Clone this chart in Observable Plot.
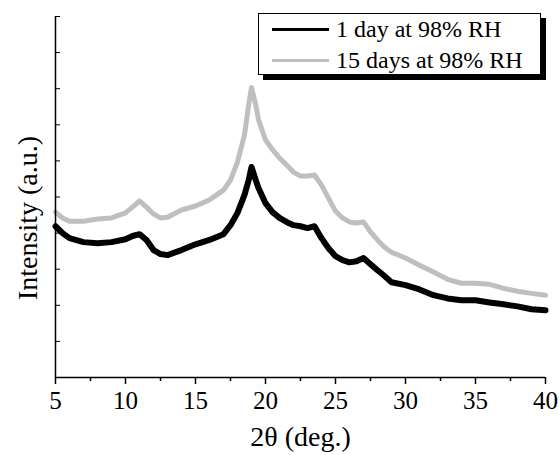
<!DOCTYPE html>
<html>
<head>
<meta charset="utf-8">
<script src="https://cdn.jsdelivr.net/npm/d3@7"></script>
<script src="https://cdn.jsdelivr.net/npm/@observablehq/plot@0.6"></script>
<style>
  body { margin: 0; background: #fff; }
  #wrap { position: relative; width: 559px; height: 455px; }
  .legend {
    position: absolute; left: 258px; top: 13px; width: 281px; height: 60px;
    border: 1px solid #000; background: #fff; box-shadow: 5px 5px 0 #000;
    font-family: "Liberation Serif", "Times New Roman", serif; font-size: 24px; color: #000;
  }
  .row { position: absolute; left: 13px; height: 28px; display: flex; align-items: center; white-space: nowrap; }
  .sample { display: inline-block; width: 57px; height: 3px; margin-right: 7px; }
  svg text { font-family: "Liberation Serif", "Times New Roman", serif; }
</style>
</head>
<body>
<div id="wrap"></div>
<script>
// 2θ positions (degrees)
const twoTheta = [5, 5.5, 6, 7, 8, 9, 10, 10.5, 11, 11.5, 12, 12.5, 13, 14, 15, 16, 17, 17.5, 18, 18.5, 18.8, 19, 19.3, 19.5, 20, 20.5, 21, 21.5, 22, 22.5, 23, 23.5, 24, 24.5, 25, 25.5, 26, 26.5, 27, 27.5, 28, 28.5, 29, 30, 31, 32, 33, 34, 35, 36, 37, 38, 39, 40];
// Intensity (a.u.), 1 day at 98% RH
const oneDay = [4.19, 4.00, 3.86, 3.75, 3.72, 3.75, 3.83, 3.92, 3.97, 3.81, 3.53, 3.42, 3.39, 3.53, 3.69, 3.81, 3.97, 4.22, 4.56, 5.06, 5.47, 5.83, 5.47, 5.25, 4.83, 4.58, 4.42, 4.31, 4.22, 4.19, 4.14, 4.19, 3.86, 3.58, 3.36, 3.25, 3.19, 3.22, 3.31, 3.14, 2.97, 2.81, 2.64, 2.56, 2.44, 2.28, 2.19, 2.14, 2.14, 2.08, 2.03, 1.97, 1.89, 1.86];
// Intensity (a.u.), 15 days at 98% RH
const fifteenDays = [4.58, 4.42, 4.33, 4.33, 4.39, 4.42, 4.56, 4.72, 4.89, 4.72, 4.53, 4.42, 4.44, 4.64, 4.75, 4.92, 5.19, 5.47, 5.97, 6.72, 7.56, 8.03, 7.56, 7.14, 6.58, 6.31, 6.08, 5.89, 5.69, 5.58, 5.58, 5.61, 5.33, 4.97, 4.61, 4.42, 4.31, 4.28, 4.31, 4.03, 3.81, 3.61, 3.47, 3.31, 3.11, 2.92, 2.72, 2.61, 2.61, 2.58, 2.47, 2.39, 2.33, 2.28];

const seriesNames = ["1 day at 98% RH", "15 days at 98% RH"];
const seriesColors = ["#000000", "#bfbfbf"];
const xTicks = [5, 10, 15, 20, 25, 30, 35, 40];
const xMinorTicks = [7.5, 12.5, 17.5, 22.5, 27.5, 32.5, 37.5];
const yTicks = [0, 1, 2, 3, 4, 5, 6, 7, 8, 9, 10];
const xTitle = "2θ (deg.)";
const yTitle = "Intensity (a.u.)";

const serif = '"Liberation Serif", "Times New Roman", serif';
const dayData = twoTheta.map((x, i) => ({x, y: oneDay[i]}));
const fifteenData = twoTheta.map((x, i) => ({x, y: fifteenDays[i]}));

const chart = Plot.plot({
  width: 559, height: 455,
  marginLeft: 55, marginRight: 14, marginTop: 16, marginBottom: 78,
  x: {domain: [5, 40]},
  y: {domain: [0, 10]},
  style: {fontFamily: serif, color: "#000", background: "#fff"},
  marks: [
    Plot.line(fifteenData, {x: "x", y: "y", stroke: seriesColors[1], strokeWidth: 5, strokeLinejoin: "round"}),
    Plot.line(dayData, {x: "x", y: "y", stroke: seriesColors[0], strokeWidth: 6, strokeLinejoin: "round"}),
    Plot.axisX({ticks: xTicks, tickSize: 7, tickPadding: 7, fontSize: 25, label: null, strokeWidth: 1.5}),
    Plot.axisX({ticks: xMinorTicks, tickSize: 4, tickFormat: () => "", label: null, strokeWidth: 1.5}),
    Plot.axisY({ticks: yTicks, tickSize: -5, tickFormat: () => "", label: null, strokeWidth: 1}),
    Plot.ruleX([5], {strokeWidth: 1.5}),
    Plot.ruleY([0], {strokeWidth: 1.5}),
    Plot.text([xTitle], {frameAnchor: "bottom", textAnchor: "middle", lineAnchor: "middle", dy: 60, fontSize: 28}),
    Plot.text([yTitle], {frameAnchor: "left", textAnchor: "middle", lineAnchor: "middle", dx: -27, dy: 21, rotate: -90, fontSize: 28})
  ]
});

const wrap = document.getElementById("wrap");
wrap.appendChild(chart);

const legend = document.createElement("div");
legend.className = "legend";
const rowTops = [1, 32];
seriesNames.forEach((name, i) => {
  const row = document.createElement("div");
  row.className = "row";
  row.style.top = rowTops[i] + "px";
  const s = document.createElement("span");
  s.className = "sample";
  s.style.background = seriesColors[i];
  row.appendChild(s);
  row.appendChild(document.createTextNode(name));
  legend.appendChild(row);
});
wrap.appendChild(legend);
</script>
</body>
</html>
